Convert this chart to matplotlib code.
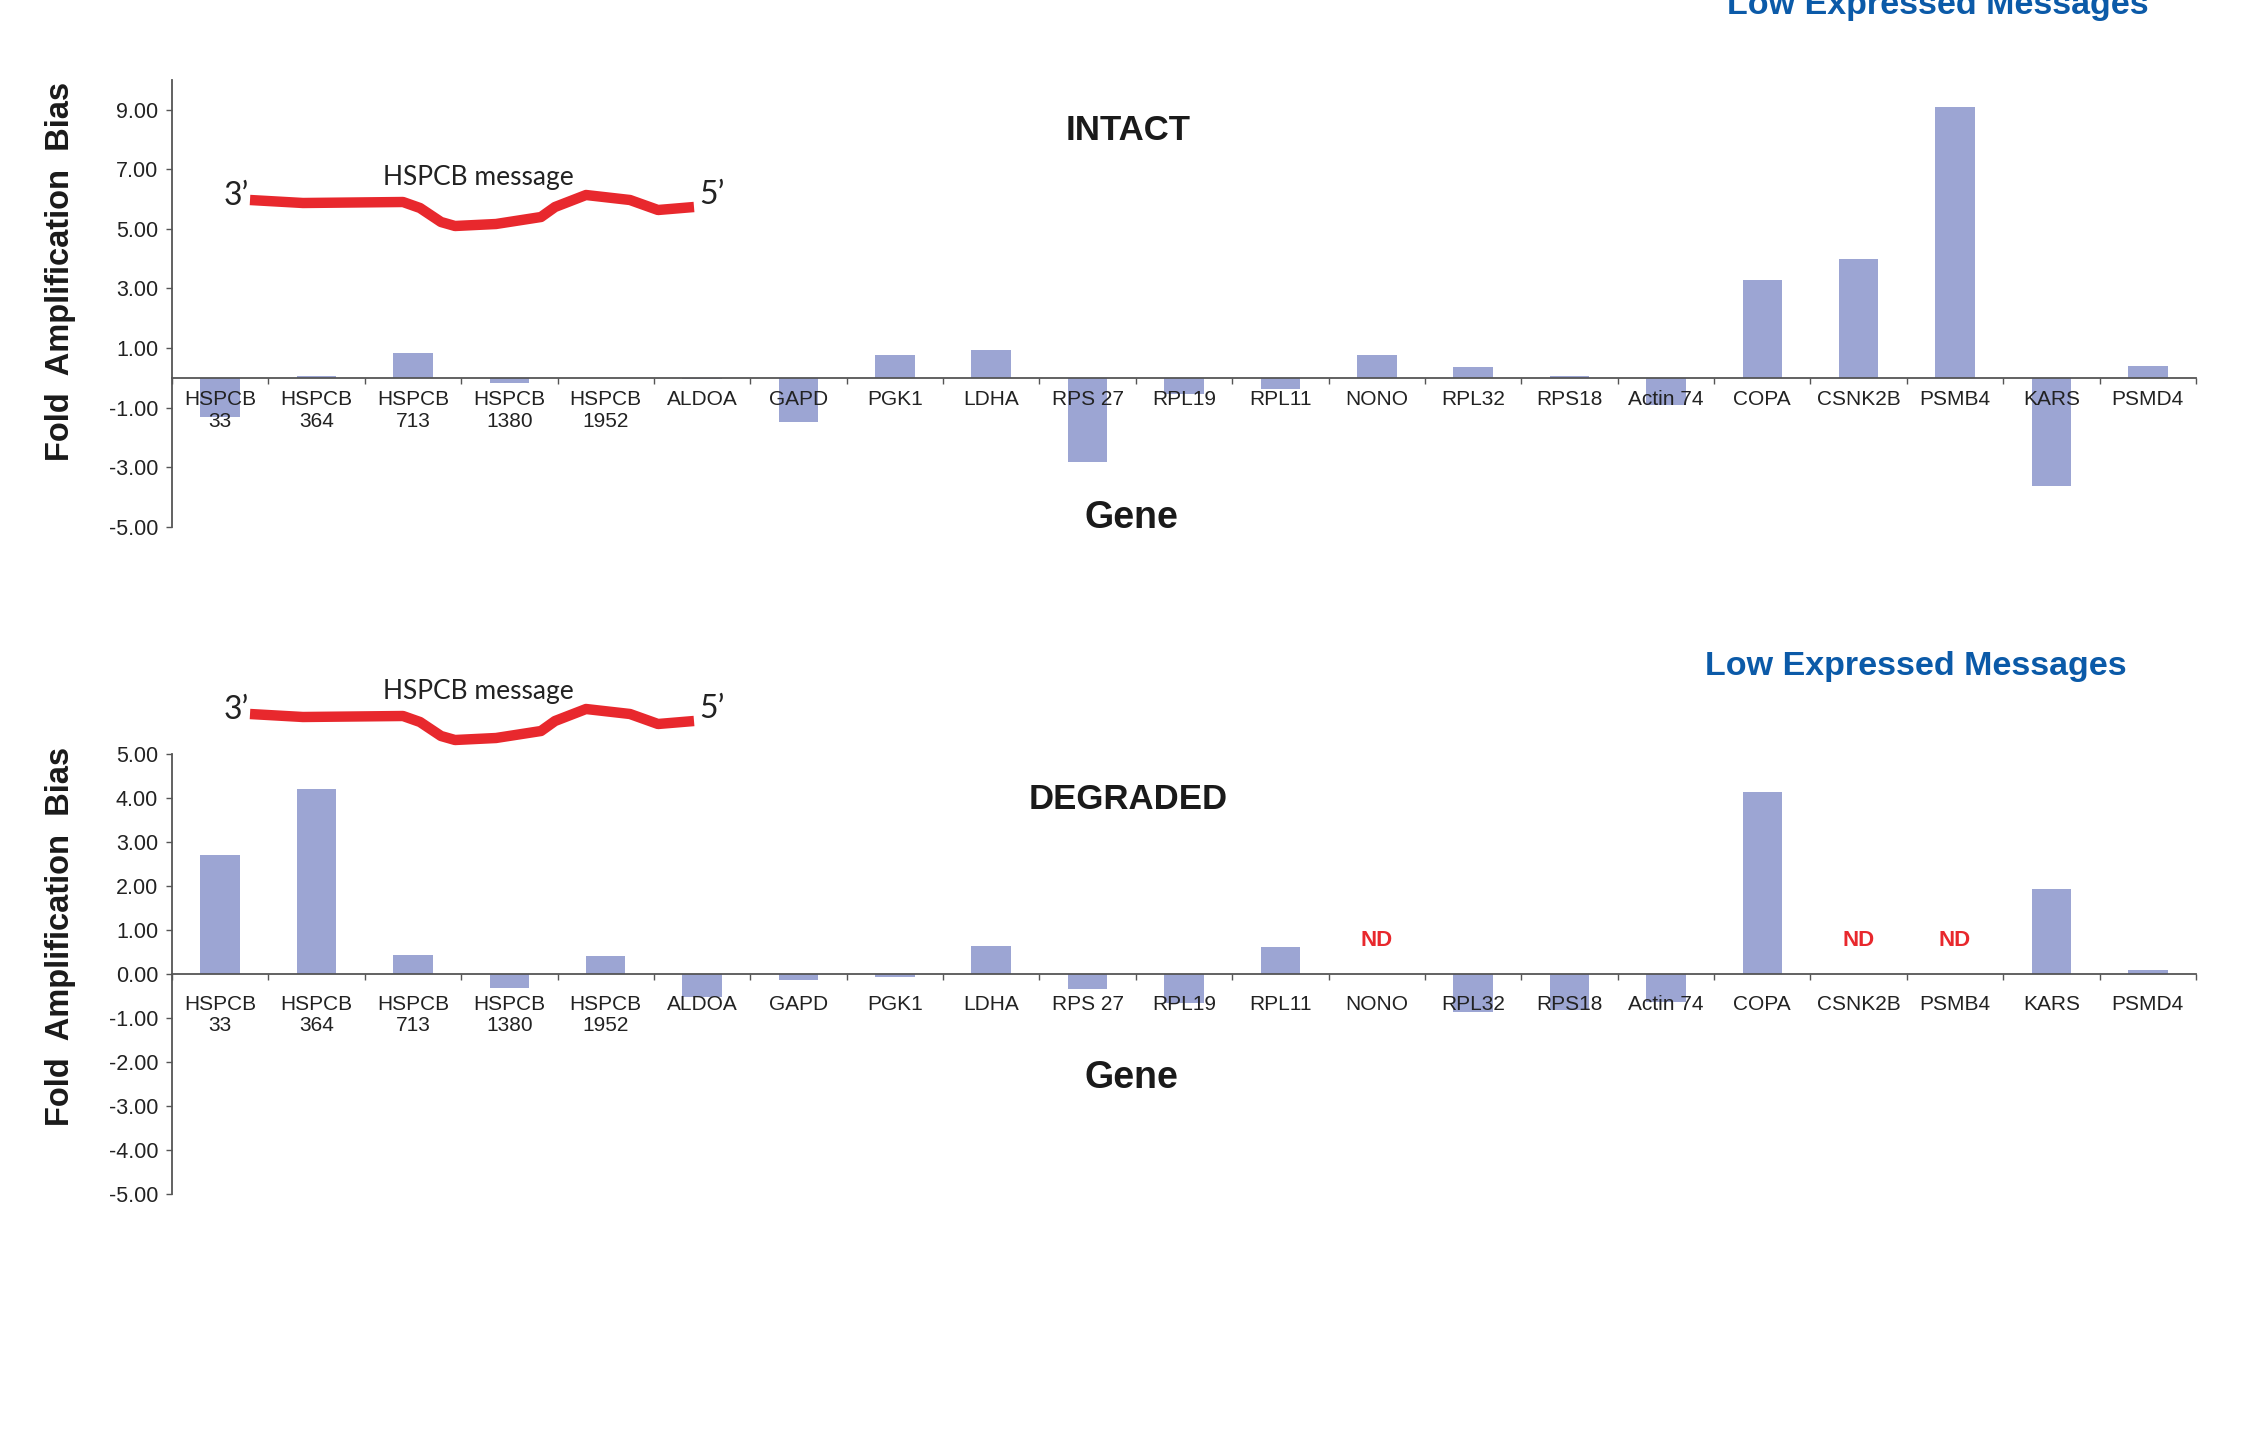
import numpy as np
import matplotlib.pyplot as plt
from matplotlib.lines import Line2D
from matplotlib import font_manager

genes = ['HSPCB\n33', 'HSPCB\n364', 'HSPCB\n713', 'HSPCB\n1380', 'HSPCB\n1952',
         'ALDOA', 'GAPD', 'PGK1', 'LDHA', 'RPS 27', 'RPL19', 'RPL11', 'NONO',
         'RPL32', 'RPS18', 'Actin 74', 'COPA', 'CSNK2B', 'PSMB4', 'KARS', 'PSMD4']

# fold amplification bias, intact RNA
intact = [-1.33, 0.05, 0.82, -0.16, -0.02, -0.05, -1.50, 0.78, 0.94, -2.84, -0.53,
          -0.39, 0.78, 0.35, 0.06, -0.90, 3.30, 3.98, 9.08, -3.62, 0.41]
# degraded RNA, nan = not detected
degraded = [2.70, 4.19, 0.44, -0.31, 0.41, -0.52, -0.13, -0.06, 0.64, -0.33, -0.66,
            0.61, np.nan, -0.87, -0.81, -0.63, 4.12, np.nan, np.nan, 1.93, 0.10]

intact_ticks = [-5, -3, -1, 1, 3, 5, 7, 9]
degraded_ticks = [-5, -4, -3, -2, -1, 0, 1, 2, 3, 4, 5]

# schematic of the HSPCB message (figure pixels, top panel)
message_x = [250, 303, 403, 420, 441, 455, 496, 541, 555, 586, 630, 658, 694]
message_y = [200, 203, 202, 208, 222, 226, 224, 217, 207, 195, 200, 210, 207]

W, H = 2248, 1451
BAR = '#9ca5d3'
RED = '#e8282d'
BLUE = '#0b5aa8'

names = {f.name for f in font_manager.fontManager.ttflist}
narrow = 'Liberation Sans Narrow' if 'Liberation Sans Narrow' in names else 'Liberation Sans'
plt.rcParams['font.family'] = 'Liberation Sans'


def fx(x):
    return x / W


def fy(y):
    return 1 - y / H


fig = plt.figure(figsize=(W / 100, H / 100), dpi=100)

left, right = 172, 2196
ax1 = fig.add_axes([fx(left), fy(526.7), (right - left) / W, (526.7 - 80) / H])
ax2 = fig.add_axes([fx(left), fy(1194.4), (right - left) / W, (1194.4 - 753.6) / H])

x = np.arange(len(genes))


def style(ax, vals, ylim, yticks, pad):
    ax.bar(x, vals, width=0.41, color=BAR, zorder=1)
    ax.set_xlim(-0.5, len(genes) - 0.5)
    ax.set_ylim(*ylim)
    for s in ['top', 'right']:
        ax.spines[s].set_visible(False)
    ax.spines['bottom'].set_position(('data', 0))
    for s in ['bottom', 'left']:
        ax.spines[s].set_color('#555555')
        ax.spines[s].set_linewidth(1.3)
    ax.set_yticks(yticks)
    ax.set_yticklabels(['%.2f' % t for t in yticks])
    ax.set_xticks(x)
    ax.set_xticklabels(genes, linespacing=1.15)
    ax.set_xticks(np.arange(len(genes) + 1) - 0.5, minor=True)
    ax.tick_params(axis='x', which='major', length=0, pad=pad, labelsize=15,
                   labelcolor='#222222')
    ax.tick_params(axis='x', which='minor', length=4, width=1, color='#555555',
                   direction='out')
    ax.tick_params(axis='y', length=4, width=1, color='#555555', pad=6,
                   labelsize=15.5, labelcolor='#222222')
    ax.patch.set_alpha(0)


style(ax1, intact, (-5, 10), intact_ticks, 9)
style(ax2, degraded, (-5, 5), degraded_ticks, 15)

for i, v in enumerate(degraded):
    if np.isnan(v):
        ax2.text(i, 0.75, 'ND', ha='center', va='center', color=RED,
                 fontsize=16, fontweight='bold')

# panel titles and labels
fig.text(fx(1128), fy(130), 'INTACT', ha='center', va='center', fontsize=25,
         fontweight='bold', color='#1a1a1a')
fig.text(fx(1128), fy(799), 'DEGRADED', ha='center', va='center', fontsize=25,
         fontweight='bold', color='#1a1a1a')
for yy in [518, 1078]:
    fig.text(fx(1131), fy(yy), 'Gene', ha='center', va='center', fontsize=27,
             fontweight='bold', family=narrow, color='#1a1a1a')
for yy in [271, 936]:
    fig.text(fx(61), fy(yy), 'Fold  Amplification  Bias', ha='center', va='center',
             rotation=90, fontsize=23.5, fontweight='bold', color='#1a1a1a')

fig.text(fx(1938), fy(14), 'Low Expressed Messages', ha='center', va='baseline',
         fontsize=24.5, fontweight='bold', color=BLUE)
fig.text(fx(1916), fy(666), 'Low Expressed Messages', ha='center', va='center',
         fontsize=24.5, fontweight='bold', color=BLUE)

# HSPCB message schematic in both panels
for dy in [0, 514]:
    fig.add_artist(Line2D([fx(v) for v in message_x],
                          [fy(v + dy) for v in message_y],
                          transform=fig.transFigure, color=RED, lw=7.5,
                          solid_joinstyle='round', solid_capstyle='butt'))
    fig.text(fx(236), fy(196 + dy), '3\u2019', ha='center', va='center',
             fontsize=23, family='Lato', color='#222222')
    fig.text(fx(712), fy(195 + dy), '5\u2019', ha='center', va='center',
             fontsize=23, family='Lato', color='#222222')
    fig.text(fx(478), fy(177 + dy), 'HSPCB message', ha='center', va='center',
             fontsize=19, family='Lato', color='#222222')

fig.savefig('out.png', dpi=100)
